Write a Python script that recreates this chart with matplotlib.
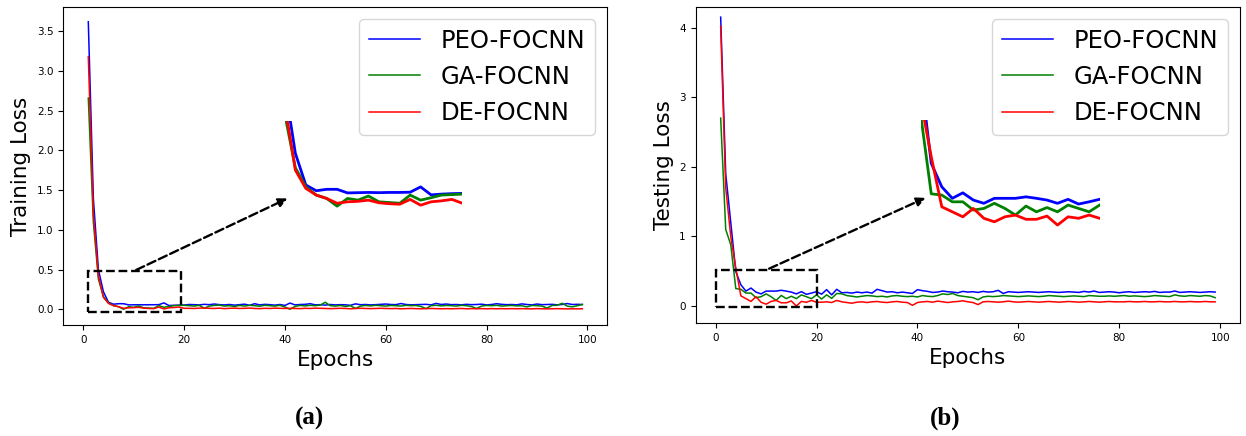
import matplotlib
matplotlib.use("agg")
import matplotlib.pyplot as plt
import numpy as np
from matplotlib.patches import Rectangle

# epochs shown on both panels
epochs = np.arange(1, 100)

# training loss per epoch
train_peo = [3.62, 1.40, 0.50, 0.22, 0.088, 0.064, 0.070, 0.070, 0.055, 0.056,
             0.057, 0.056, 0.057, 0.057, 0.058, 0.080, 0.047, 0.050, 0.052, 0.053,
             0.060, 0.058, 0.055, 0.062, 0.058, 0.066, 0.058, 0.055, 0.060, 0.052,
             0.058, 0.064, 0.050, 0.070, 0.055, 0.062, 0.058, 0.052, 0.060, 0.048,
             0.078, 0.055, 0.060, 0.062, 0.070, 0.056, 0.058, 0.052, 0.060, 0.055,
             0.058, 0.056, 0.050, 0.068, 0.057, 0.060, 0.055, 0.058, 0.062, 0.066,
             0.060, 0.058, 0.072, 0.060, 0.056, 0.058, 0.060, 0.062, 0.055, 0.074,
             0.060, 0.066, 0.058, 0.060, 0.056, 0.062, 0.058, 0.060, 0.064, 0.055,
             0.060, 0.070, 0.062, 0.058, 0.060, 0.056, 0.068, 0.060, 0.055, 0.066,
             0.058, 0.060, 0.062, 0.056, 0.060, 0.072, 0.060, 0.062, 0.060]
train_ga = [2.66, 1.10, 0.38, 0.16, 0.080, 0.046, 0.032, 0.000, 0.032, 0.025,
            0.042, 0.018, 0.015, 0.012, 0.046, 0.025, 0.035, 0.046, 0.048, 0.050,
            0.045, 0.040, 0.050, 0.012, 0.040, 0.048, 0.052, 0.040, 0.045, 0.035,
            0.048, 0.040, 0.050, 0.045, 0.038, 0.050, 0.045, 0.040, 0.050, 0.028,
            0.000, 0.035, 0.048, 0.042, 0.050, 0.045, 0.052, 0.088, 0.045, 0.040,
            0.048, 0.035, 0.045, 0.010, 0.040, 0.048, 0.042, 0.050, 0.045, 0.040,
            0.048, 0.045, 0.040, 0.050, 0.045, 0.048, 0.035, 0.008, 0.045, 0.050,
            0.042, 0.048, 0.045, 0.040, 0.050, 0.045, 0.035, 0.010, 0.040, 0.048,
            0.045, 0.050, 0.040, 0.045, 0.048, 0.042, 0.045, 0.030, 0.048, 0.045,
            0.040, 0.015, 0.048, 0.050, 0.075, 0.040, 0.030, 0.045, 0.060]
train_de = [3.18, 1.20, 0.42, 0.15, 0.074, 0.046, 0.032, 0.012, 0.018, 0.020,
            0.025, 0.014, 0.010, 0.008, 0.028, 0.004, 0.018, 0.022, 0.028, 0.012,
            0.012, 0.010, 0.014, 0.016, 0.012, 0.010, 0.014, 0.008, 0.012, 0.014,
            0.010, 0.012, 0.015, 0.010, 0.008, 0.012, 0.010, 0.014, 0.012, 0.010,
            0.012, 0.010, 0.008, 0.012, 0.010, 0.014, 0.012, 0.010, 0.008, 0.010,
            0.012, 0.010, 0.006, 0.010, 0.012, 0.010, 0.008, 0.010, 0.012, 0.010,
            0.008, 0.010, 0.006, 0.008, 0.010, 0.008, 0.006, 0.008, 0.010, 0.008,
            0.006, 0.008, 0.006, 0.008, 0.010, 0.006, 0.008, 0.006, 0.008, 0.006,
            0.008, 0.006, 0.008, 0.006, 0.008, 0.006, 0.008, 0.006, 0.005, 0.008,
            0.006, 0.005, 0.006, 0.008, 0.006, 0.005, 0.006, 0.005, 0.006]

# testing loss per epoch
test_peo = [4.15, 1.90, 1.20, 0.494, 0.306, 0.214, 0.258, 0.200, 0.174, 0.214,
            0.214, 0.214, 0.226, 0.214, 0.200, 0.174, 0.206, 0.168, 0.186, 0.206,
            0.170, 0.235, 0.160, 0.240, 0.190, 0.195, 0.185, 0.200, 0.190, 0.200,
            0.185, 0.240, 0.220, 0.200, 0.205, 0.190, 0.200, 0.190, 0.180, 0.235,
            0.220, 0.210, 0.195, 0.200, 0.215, 0.205, 0.200, 0.190, 0.210, 0.200,
            0.205, 0.195, 0.210, 0.200, 0.205, 0.225, 0.180, 0.205, 0.200, 0.195,
            0.200, 0.205, 0.200, 0.195, 0.200, 0.205, 0.200, 0.195, 0.200, 0.205,
            0.200, 0.195, 0.210, 0.200, 0.215, 0.195, 0.200, 0.205, 0.200, 0.190,
            0.200, 0.205, 0.195, 0.200, 0.205, 0.200, 0.210, 0.195, 0.200, 0.200,
            0.215, 0.195, 0.200, 0.205, 0.200, 0.195, 0.200, 0.205, 0.200]
test_ga = [2.70, 1.10, 0.88, 0.250, 0.240, 0.186, 0.186, 0.120, 0.133, 0.174,
           0.133, 0.080, 0.152, 0.106, 0.140, 0.106, 0.160, 0.133, 0.106, 0.160,
           0.100, 0.160, 0.110, 0.180, 0.175, 0.150, 0.140, 0.130, 0.140, 0.150,
           0.145, 0.135, 0.140, 0.130, 0.145, 0.150, 0.140, 0.135, 0.140, 0.130,
           0.150, 0.140, 0.135, 0.150, 0.175, 0.165, 0.180, 0.150, 0.140, 0.130,
           0.120, 0.090, 0.130, 0.140, 0.135, 0.140, 0.150, 0.145, 0.140, 0.135,
           0.140, 0.145, 0.140, 0.135, 0.140, 0.150, 0.145, 0.140, 0.135, 0.140,
           0.145, 0.140, 0.135, 0.150, 0.145, 0.140, 0.140, 0.145, 0.140, 0.145,
           0.150, 0.140, 0.145, 0.140, 0.135, 0.140, 0.150, 0.145, 0.140, 0.135,
           0.160, 0.145, 0.140, 0.150, 0.145, 0.140, 0.150, 0.145, 0.120]
test_de = [4.02, 1.70, 1.00, 0.546, 0.146, 0.106, 0.066, 0.133, 0.054, 0.026,
           0.066, 0.080, 0.046, 0.046, 0.072, 0.000, 0.066, 0.054, 0.080, 0.054,
           0.055, 0.060, 0.050, 0.080, 0.060, 0.050, 0.040, 0.055, 0.060, 0.050,
           0.060, 0.065, 0.055, 0.050, 0.060, 0.065, 0.055, 0.050, 0.010, 0.050,
           0.060, 0.065, 0.055, 0.070, 0.060, 0.050, 0.060, 0.065, 0.075, 0.060,
           0.050, 0.020, 0.060, 0.065, 0.060, 0.055, 0.060, 0.070, 0.060, 0.055,
           0.060, 0.065, 0.060, 0.055, 0.060, 0.065, 0.060, 0.055, 0.060, 0.065,
           0.060, 0.055, 0.060, 0.065, 0.060, 0.055, 0.060, 0.065, 0.060, 0.060,
           0.060, 0.065, 0.060, 0.060, 0.065, 0.060, 0.060, 0.065, 0.060, 0.060,
           0.065, 0.060, 0.060, 0.065, 0.060, 0.060, 0.065, 0.060, 0.060]

labels = ["PEO-FOCNN", "GA-FOCNN", "DE-FOCNN"]
colors = ["blue", "green", "red"]


def draw_panel(ax, series, ylabel, ylim, box, arrow, inset_box, inset_ylim):
    for y, lab, c in zip(series, labels, colors):
        ax.plot(epochs, y, color=c, lw=1.1, label=lab)
    ax.set_xlim(-3.96, 103.9)
    ax.set_ylim(*ylim)
    ax.set_xticks([0, 20, 40, 60, 80, 100])
    ax.tick_params(labelsize=7.5)
    ax.set_xlabel("Epochs", fontsize=15.5)
    ax.set_ylabel(ylabel, fontsize=15.5)

    # dashed zoom box and arrow pointing to the inset
    (x0, y0), (x1, y1) = box
    ax.add_patch(Rectangle((x0, y0), x1 - x0, y1 - y0, fill=False,
                           ls="--", lw=1.7, ec="black", zorder=5))
    ax.annotate("", xy=arrow[1], xytext=arrow[0],
                arrowprops=dict(arrowstyle="-|>", ls="--", lw=1.7,
                                color="black", mutation_scale=13))

    # zoomed view of the first epochs
    ins = ax.inset_axes(inset_box, transform=ax.transData)
    for y, c in zip(series, colors):
        ins.plot(epochs[:20], y[:20], color=c, lw=2.0)
    ins.set_xlim(3, 20)
    ins.set_ylim(*inset_ylim)
    ins.axis("off")

    ax.legend(loc="upper right", fontsize=17.5, handlelength=2.1,
              handletextpad=0.85, labelspacing=0.5)


fig = plt.figure(figsize=(12.46, 4.36), dpi=100)
ax1 = fig.add_axes([0.0508, 0.2546, 0.4364, 0.7294])
ax2 = fig.add_axes([0.5583, 0.2592, 0.4368, 0.7248])

draw_panel(ax1, [train_peo, train_ga, train_de], "Training Loss",
           (-0.198, 3.806), ((1, -0.04), (19.3, 0.48)),
           ((10, 0.48), (41, 1.41)), [40.0, 1.25, 35.2, 1.12], (-0.016, 0.354))
draw_panel(ax2, [test_peo, test_ga, test_de], "Testing Loss",
           (-0.244, 4.296), ((0, -0.02), (20, 0.52)),
           ((10.1, 0.52), (42.1, 1.57)), [40.65, 1.12, 35.45, 1.55], (-0.024, 0.84))
ax2.set_yticks([0, 1, 2, 3, 4])

fig.text(309 / 1246, 1 - 418 / 436, "(a)", ha="center", va="center",
         fontsize=18, family="Liberation Serif", weight="bold")
fig.text(945 / 1246, 1 - 418 / 436, "(b)", ha="center", va="center",
         fontsize=18, family="Liberation Serif", weight="bold")

fig.savefig("out.png", dpi=100)
